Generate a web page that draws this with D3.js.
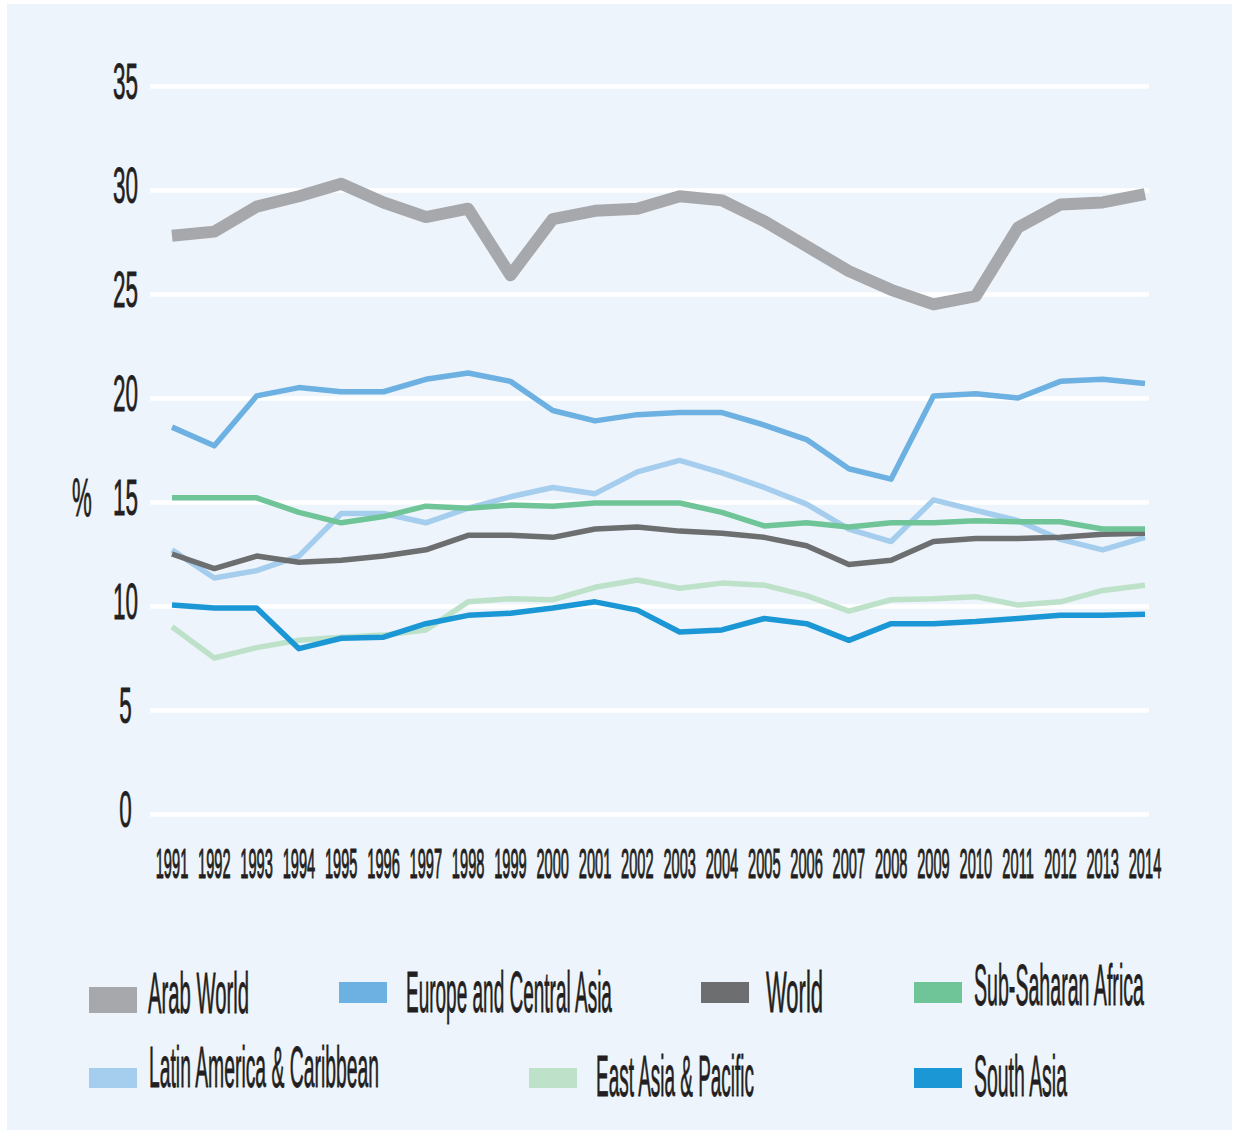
<!DOCTYPE html>
<html>
<head>
<meta charset="utf-8">
<script src="https://cdn.jsdelivr.net/npm/d3@7/dist/d3.min.js"></script>
<style>
  html, body { margin: 0; padding: 0; background: #ffffff; }
  svg { display: block; }
  text { font-family: "Liberation Sans", Arial, sans-serif; fill: #231f20; }
</style>
</head>
<body>
<svg id="chart" width="1239" height="1134"></svg>
<script>
// ---------- DATA ----------
const years = [1991,1992,1993,1994,1995,1996,1997,1998,1999,2000,2001,2002,2003,2004,2005,2006,2007,2008,2009,2010,2011,2012,2013,2014];
const yTicks = [0,5,10,15,20,25,30,35];

const arabWorld      = [27.8,28.0,29.2,29.7,30.3,29.4,28.7,29.1,25.9,28.6,29.0,29.1,29.7,29.5,28.5,27.3,26.1,25.2,24.5,24.9,28.2,29.3,29.4,29.8];
const europeCentral  = [18.6,17.7,20.1,20.5,20.3,20.3,20.9,21.2,20.8,19.4,18.9,19.2,19.3,19.3,18.7,18.0,16.6,16.1,20.1,20.2,20.0,20.8,20.9,20.7];
const world          = [12.5,11.8,12.4,12.1,12.2,12.4,12.7,13.4,13.4,13.3,13.7,13.8,13.6,13.5,13.3,12.9,12.0,12.2,13.1,13.25,13.25,13.3,13.45,13.5];
const subSaharan     = [15.2,15.2,15.2,14.5,14.0,14.3,14.8,14.7,14.85,14.8,14.95,14.95,14.95,14.5,13.85,14.0,13.8,14.0,14.0,14.1,14.05,14.05,13.7,13.7];
const latinAmerica   = [12.7,11.35,11.7,12.4,14.45,14.45,14.0,14.7,15.25,15.7,15.4,16.45,17.0,16.4,15.7,14.9,13.7,13.1,15.1,14.6,14.1,13.2,12.7,13.3];
const eastAsia       = [9.0,7.5,8.0,8.35,8.5,8.6,8.85,10.2,10.35,10.3,10.9,11.25,10.85,11.1,11.0,10.5,9.75,10.3,10.35,10.45,10.05,10.2,10.75,11.0];
const southAsia      = [10.05,9.9,9.9,7.95,8.45,8.5,9.15,9.55,9.65,9.9,10.2,9.8,8.75,8.85,9.4,9.15,8.35,9.15,9.15,9.25,9.4,9.55,9.55,9.6];

const seriesNames  = ["Arab World","Europe and Central Asia","World","Sub-Saharan Africa","Latin America & Caribbean","East Asia & Pacific","South Asia"];
const seriesValues = [arabWorld, europeCentral, world, subSaharan, latinAmerica, eastAsia, southAsia];
const seriesColors = ["#a7a8ac","#6cb1e1","#6d6e70","#6fc597","#a5cdee","#bde2c9","#1b97d5"];
const seriesWidths = [12,5.5,5.5,5.5,5.5,5.5,5.5];
const drawOrder    = [0,1,4,5,2,3,6];

// legend layout: swatch x, swatch y, swatch h, text x, text baseline, text width
const legendLayout = [
  [89, 987, 26, 148, 1013, 101],
  [339, 982, 21, 406, 1012, 206],
  [701, 982, 21, 766, 1012, 57],
  [914, 982, 21, 974, 1005, 170],
  [89, 1068, 20, 149, 1087, 230],
  [529, 1068, 20, 596, 1096, 158],
  [914, 1068, 20, 974, 1096, 93]
];

// ---------- CHART ----------
const svg = d3.select("#chart");

svg.append("rect")
  .attr("x", 7).attr("y", 4)
  .attr("width", 1225).attr("height", 1126)
  .attr("fill", "#eef4fb");

const x = d3.scaleLinear().domain([years[0], years[years.length-1]]).range([172, 1145]);
const y = d3.scaleLinear().domain([0, 35]).range([814, 86]);

// gridlines
const grid = svg.append("g")
  .attr("transform", "translate(150,0)")
  .call(d3.axisLeft(y).tickValues(yTicks).tickSize(-999).tickFormat(""));
grid.select(".domain").remove();
grid.selectAll(".tick line").attr("stroke", "#ffffff").attr("stroke-width", 4.5);

// y tick labels
svg.append("g").selectAll("text")
  .data(yTicks)
  .join("text")
  .attr("transform", d => `translate(125.5,${y(d) + 13}) scale(0.45,1)`)
  .attr("text-anchor", "middle")
  .attr("font-size", 50)
  .attr("stroke", "#231f20").attr("stroke-width", 0.8)
  .text(d => d);

// % label
svg.append("text")
  .attr("transform", "translate(82,516) scale(0.42,1)")
  .attr("text-anchor", "middle")
  .attr("font-size", 53)
  .attr("stroke", "#231f20").attr("stroke-width", 0.8)
  .text("%");

// x tick labels
svg.append("g").selectAll("text")
  .data(years)
  .join("text")
  .attr("transform", d => `translate(${x(d)},878) scale(0.34,1)`)
  .attr("text-anchor", "middle")
  .attr("font-size", 43)
  .attr("stroke", "#231f20").attr("stroke-width", 1.2)
  .text(d => d);

// lines
const line = d3.line()
  .x((d, i) => x(years[i]))
  .y(d => y(d));

const linesG = svg.append("g");
drawOrder.forEach(k => {
  linesG.append("path")
    .datum(seriesValues[k])
    .attr("d", line)
    .attr("fill", "none")
    .attr("stroke", seriesColors[k])
    .attr("stroke-width", seriesWidths[k])
    .attr("stroke-linejoin", "round");
});

// legend
const leg = svg.append("g");
seriesNames.forEach((name, k) => {
  const L = legendLayout[k];
  leg.append("rect")
    .attr("x", L[0]).attr("y", L[1])
    .attr("width", 48).attr("height", L[2])
    .attr("fill", seriesColors[k]);
  const t = leg.append("text")
    .attr("font-size", 57)
    .attr("stroke", "#231f20").attr("stroke-width", 0.8)
    .text(name);
  const natural = t.node().getComputedTextLength() || 1;
  const sx = L[5] / natural;
  t.attr("transform", `translate(${L[3]},${L[4]}) scale(${sx},1)`);
});
</script>
</body>
</html>
